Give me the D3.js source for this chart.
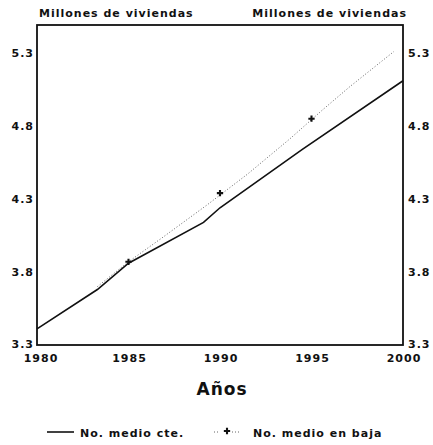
<!DOCTYPE html>
<html lang="es">
<head>
<meta charset="UTF-8">
<title>Millones de viviendas</title>
<script src="https://cdn.jsdelivr.net/npm/d3@7"></script>
<style>
    body{ margin:0; background:#fff; }
    text{ font-family:"DejaVu Sans", Arial, sans-serif; font-weight:bold; fill:#111; letter-spacing:1px; }
</style>
</head>
<body>
<svg id="chart" width="433" height="445"></svg>
<script>
    // data
    let yearsCte = [1980, 1983.3, 1985, 1989.1, 1990, 1994.5, 2000]
    let medioCte = [3.41, 3.68, 3.86, 4.14, 4.24, 4.64, 5.11]

    let yearsBaja = [1983.3, 1985, 1986.9, 1989.3, 1991.5, 1993.8, 1995.6, 1997.1, 1999.5]
    let medioBaja = [3.70, 3.87, 4.04, 4.26, 4.47, 4.71, 4.91, 5.07, 5.31]

    let markYears = [1985, 1990, 1995]
    let markVals = [3.87, 4.34, 4.85]

    let xTicks = [1980, 1985, 1990, 1995, 2000]
    let yTicks = [3.3, 3.8, 4.3, 4.8, 5.3]

    let svg = d3.select("#chart")
    let mLeft = 37, mRight = 403, mTop = 25, mBottom = 345

    let x = d3.scaleLinear().domain([1980, 2000]).range([mLeft, mRight])
    let y = d3.scaleLinear().domain([3.3, 5.3]).range([mBottom, 53])

    // frame
    svg.append("rect")
        .attr("x", mLeft).attr("y", mTop)
        .attr("width", mRight - mLeft).attr("height", mBottom - mTop)
        .attr("fill", "none").attr("stroke", "#111").attr("stroke-width", 1.8)

    // y labels both sides
    yTicks.forEach(function(v){
        let yy = v === 3.3 ? mBottom - 1 : y(v)
        svg.append("text").attr("x", mLeft - 3).attr("y", yy + 4)
            .attr("text-anchor", "end").attr("font-size", 11).text(v.toFixed(1))
        svg.append("text").attr("x", mRight + 5).attr("y", yy + 4)
            .attr("text-anchor", "start").attr("font-size", 11).text(v.toFixed(1))
    })

    // x labels
    xTicks.forEach(function(t){
        svg.append("text").attr("x", x(t) + (t === 1980 ? 4 : 1)).attr("y", mBottom + 17)
            .attr("text-anchor", "middle").attr("font-size", 11).text(t)
    })

    svg.append("text").attr("x", 222).attr("y", 395)
        .attr("text-anchor", "middle").attr("font-size", 17).attr("letter-spacing", 0).text("Años")

    svg.append("text").attr("x", 39).attr("y", 17).attr("font-size", 11).text("Millones de viviendas")
    svg.append("text").attr("x", 407).attr("y", 17).attr("text-anchor", "end")
        .attr("font-size", 11).text("Millones de viviendas")

    let line = d3.line().x(d => x(d[0])).y(d => y(d[1]))

    svg.append("path")
        .datum(d3.zip(yearsCte, medioCte))
        .attr("d", line).attr("fill", "none")
        .attr("stroke", "#111").attr("stroke-width", 1.6)

    svg.append("path")
        .datum(d3.zip(yearsBaja, medioBaja))
        .attr("d", line).attr("fill", "none")
        .attr("stroke", "#555").attr("stroke-width", 0.9)
        .attr("stroke-dasharray", "1,2")

    let plus = d3.symbol().type(d3.symbolCross).size(22)
    svg.selectAll(".mk").data(d3.zip(markYears, markVals)).join("path")
        .attr("class", "mk")
        .attr("transform", d => "translate(" + x(d[0]) + "," + y(d[1]) + ")")
        .attr("d", plus).attr("fill", "#111")

    // legend
    svg.append("line").attr("x1", 47).attr("x2", 74).attr("y1", 432).attr("y2", 432)
        .attr("stroke", "#111").attr("stroke-width", 1.6)
    svg.append("text").attr("x", 80).attr("y", 437).attr("font-size", 11).text("No. medio cte.")
    svg.append("line").attr("x1", 214).attr("x2", 248).attr("y1", 432).attr("y2", 432)
        .attr("stroke", "#555").attr("stroke-width", 0.9).attr("stroke-dasharray", "1,2,1,14,1,2")
    svg.append("path").attr("transform", "translate(227,431)").attr("d", plus).attr("fill", "#111")
    svg.append("text").attr("x", 253).attr("y", 437).attr("font-size", 11).text("No. medio en baja")
</script>
</body>
</html>
